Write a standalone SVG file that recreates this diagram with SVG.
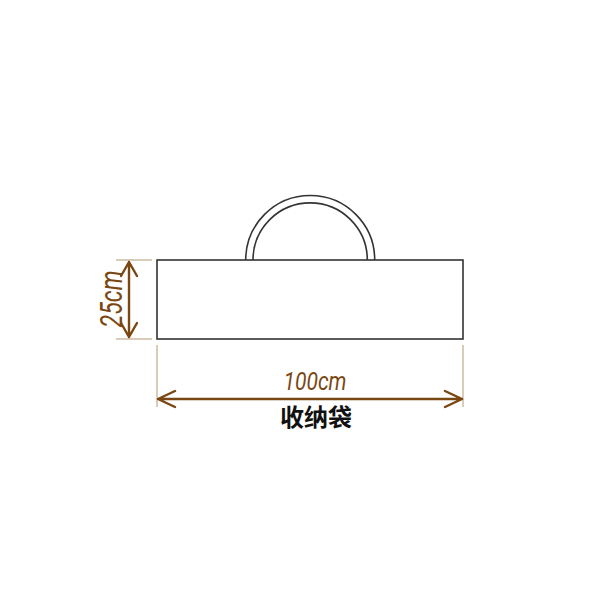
<svg xmlns="http://www.w3.org/2000/svg" width="611" height="611" viewBox="0 0 611 611">
<style>
.outline{fill:none;stroke:#333;stroke-width:1.6}
.ext{stroke:#b39a72;stroke-width:1}
.dim{stroke:#7a4713;stroke-width:2.4;fill:none;stroke-linecap:round;stroke-linejoin:round}
.dimtxt{fill:#7a4713;font-family:"Roboto","Liberation Sans",sans-serif;font-style:italic}
.label{fill:#111;font-family:"Noto Sans CJK SC",sans-serif;font-weight:bold;font-size:24px}
</style>
<rect width="611" height="611" fill="#fff"/>
<g id="bag">
  <rect class="outline" x="157" y="260" width="306" height="79"/>
  <path class="outline" d="M245.7 260 A64.5 64.5 0 0 1 374.7 260"/>
  <path class="outline" d="M253 260 A57 57 0 0 1 367.3 260"/>
</g>
<g id="connectors">
  <line class="ext" x1="116" y1="260" x2="152" y2="260"/>
  <line class="ext" x1="116" y1="339" x2="152" y2="339"/>
  <line class="ext" x1="157" y1="345" x2="157" y2="407"/>
  <line class="ext" x1="463" y1="345" x2="463" y2="407"/>
  <path class="dim" d="M129 262 V337 M121 276 L129 262 L137 276 M121 323 L129 337 L137 323"/>
  <path class="dim" d="M158 399 H462 M175 391 L158 399 L175 407 M445 391 L462 399 L445 407"/>
</g>
<g id="label-height">
  <text class="dimtxt" font-size="31" text-anchor="middle" transform="translate(122 299) rotate(-90)" textLength="57" lengthAdjust="spacingAndGlyphs">25cm</text>
</g>
<g id="label-width">
  <text class="dimtxt" x="315" y="390" font-size="25" text-anchor="middle" textLength="63" lengthAdjust="spacingAndGlyphs">100cm</text>
</g>
<g id="label-name">
  <text class="label" x="316" y="426" text-anchor="middle">收纳袋</text>
</g>
</svg>
